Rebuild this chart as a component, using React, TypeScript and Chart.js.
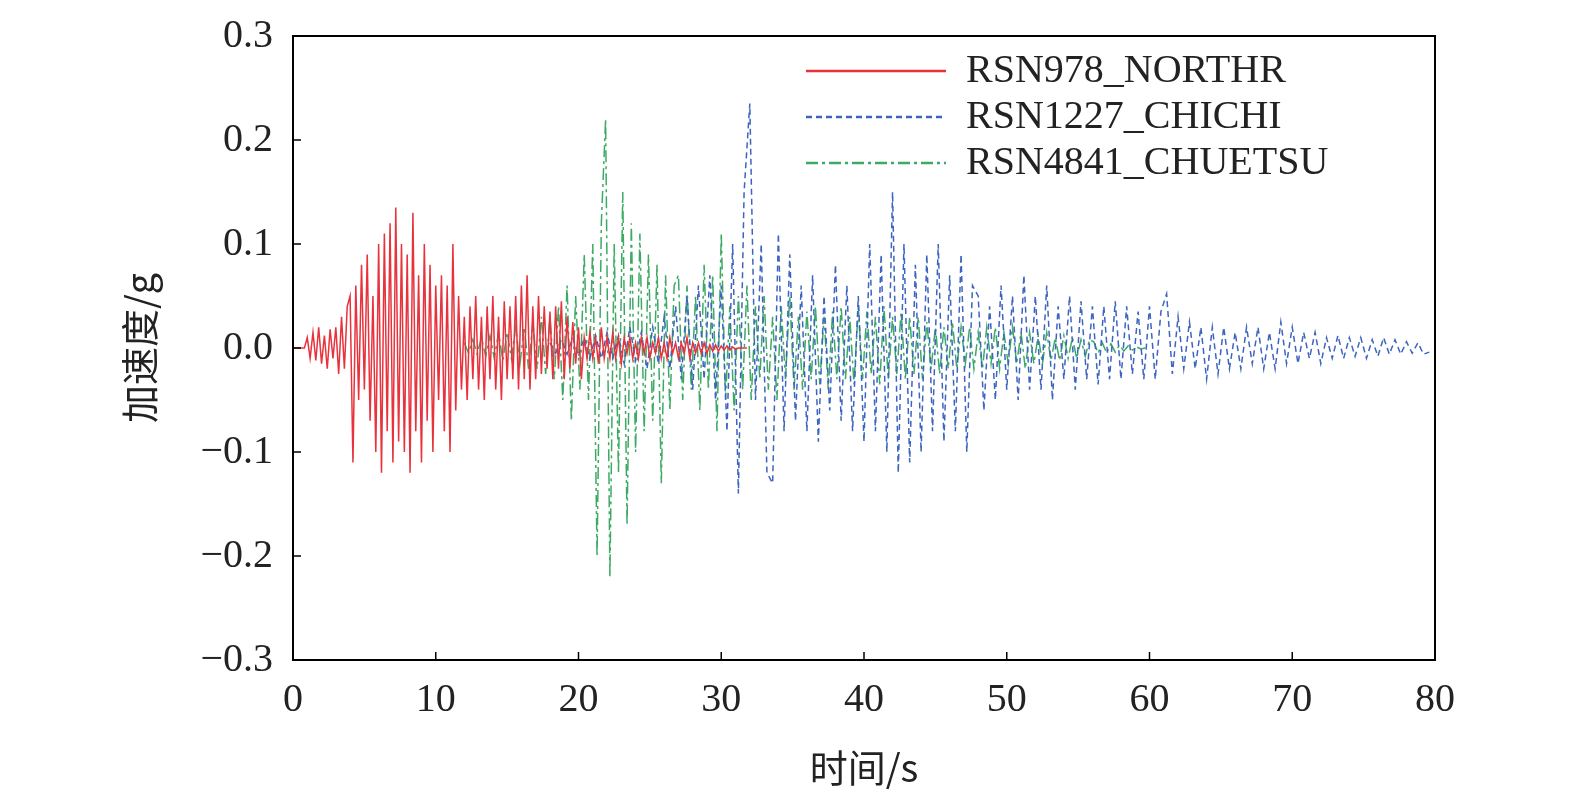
import React, { useEffect, useRef } from "react";
import { Chart, registerables } from "chart.js";
Chart.register(...registerables);

const redStart = 0, redDt = 0.2;
const redValues = [0,0,0,0,0,
0.01,-0.01,0.015,-0.012,0.02,-0.015,0.012,-0.02,0.018,-0.01,0.02,-0.025,0.03,-0.02,0.04,
0.05,-0.11,0.06,-0.05,0.08,-0.04,0.09,-0.07,0.05,-0.1,0.1,-0.12,0.11,-0.08,0.12,-0.11,0.135,-0.09,0.1,-0.1,0.09,-0.12,0.13,-0.08,0.07,-0.11,0.1,-0.07,0.08,-0.1,0.06,-0.05,0.07,-0.08,0.06,-0.1,0.1,-0.06,0.05,-0.04,
0.03,-0.05,0.04,-0.03,0.05,-0.04,0.03,-0.05,0.04,-0.03,0.05,-0.04,0.03,-0.05,0.045,-0.03,0.04,-0.03,0.05,-0.04,0.06,-0.03,0.07,-0.04,0.04,-0.03,0.05,-0.025,0.04,-0.02,0.035,-0.03,0.04,-0.02,0.045,-0.03,0.03,-0.02,0.025,-0.015,
0.02,-0.03,0.01,-0.01,0.015,-0.01,0.01,-0.015,0.02,-0.01,0.01,-0.01,0.015,-0.01,0.01,-0.015,0.01,-0.005,0.01,-0.01,0.005,-0.01,0.01,-0.005,0.01,-0.01,0.005,-0.005,0.01,-0.01,0.005,-0.01,0.01,-0.005,0.005,-0.01,0.005,-0.005,0.01,-0.01,0.005,-0.005,0.005,-0.005,0.005,-0.005,0.003,-0.003,0.003,-0.003,0.002,-0.002,0.002,-0.002,0.001,-0.001,0,0,0,0];

const blueStart = 18, blueDt = 0.4;
const blueValues = [0.005,-0.005,0.008,-0.006,0.01,-0.008,0.01,-0.01,0.012,-0.01,0.015,-0.01,0.012,-0.015,0.02,-0.012,0.015,-0.02,0.02,-0.015,
0.03,-0.02,0.04,-0.03,0.05,-0.04,0.06,-0.03,0.07,-0.05,
0.06,-0.08,0.1,-0.14,0.15,0.235,-0.05,0.1,-0.12,-0.13,0.11,-0.08,0.09,-0.07,0.06,
-0.08,0.07,-0.09,0.05,-0.06,0.08,-0.07,0.06,-0.08,0.05,-0.09,0.1,-0.08,0.09,-0.1,0.15,-0.12,0.1,-0.11,0.08,-0.1,0.09,-0.08,0.1,-0.09,0.07,-0.08,0.09,-0.1,0.06,
0.05,-0.06,0.04,-0.05,0.06,-0.04,0.05,-0.05,0.07,-0.04,0.05,-0.04,0.06,-0.05,0.04,-0.03,0.05,-0.04,0.045,-0.03,0.04,-0.035,0.04,-0.03,0.045,-0.03,0.04,-0.025,0.035,-0.03,0.04,-0.03,0.035,0.052,-0.025,0.03,-0.02,
0.025,-0.02,0.02,-0.03,0.02,-0.025,0.02,-0.02,0.015,-0.02,0.02,-0.015,0.02,-0.02,0.015,-0.02,0.025,-0.015,0.02,-0.015,0.015,-0.01,0.015,-0.015,0.01,-0.01,0.012,-0.01,0.01,-0.008,0.01,-0.01,0.008,-0.008,0.01,-0.006,0.008,-0.006,0.006,-0.005,0.005,-0.006,-0.004];

const greenStart = 12, greenDt = 0.3;
const greenValues = [0.005,-0.005,0.008,-0.006,0.01,-0.008,0.012,-0.01,0.015,-0.012,0.015,-0.01,0.02,-0.015,0.02,-0.02,0.025,-0.02,0.03,-0.025,
0.03,-0.03,0.04,-0.05,0.06,-0.07,0.05,-0.04,0.09,-0.05,0.1,-0.2,0.12,0.22,-0.22,0.1,-0.12,0.15,-0.17,0.12,-0.1,0.11,-0.08,0.09,-0.07,0.08,-0.13,0.07,-0.06,0.06,
0.07,-0.05,0.06,-0.04,0.05,-0.06,0.08,-0.04,0.07,-0.08,0.11,-0.05,0.04,-0.06,0.05,-0.04,0.06,-0.05,0.04,-0.03,0.05,-0.04,0.03,-0.05,0.04,-0.03,0.05,-0.04,0.03,-0.04,
0.035,-0.03,0.04,-0.035,0.03,-0.04,0.035,-0.03,0.04,-0.03,0.03,-0.035,0.04,-0.03,0.035,-0.025,0.03,-0.035,0.04,-0.03,0.03,-0.025,0.035,-0.03,0.03,-0.025,0.03,-0.03,0.025,-0.02,
0.02,-0.025,0.02,-0.02,0.025,-0.02,0.02,-0.015,0.02,-0.02,0.015,-0.02,0.02,-0.015,0.02,-0.02,0.015,-0.015,0.02,-0.015,0.015,-0.02,0.015,-0.015,0.012,-0.015,0.015,-0.012,0.01,-0.012,0.012,-0.01,0.01,-0.01,0.008,-0.008,0.008,
0.006,-0.005,0.005,-0.005,0.004,-0.004,0.003,-0.003,0.002,-0.002,0.001,-0.001,0];

const xTicks = [0, 10, 20, 30, 40, 50, 60, 70, 80];
const yTicks = [-0.3, -0.2, -0.1, 0.0, 0.1, 0.2, 0.3];
const seriesNames = ["RSN978_NORTHR", "RSN1227_CHICHI", "RSN4841_CHUETSU"];

const toPts = (start: number, dt: number, v: number[]) => v.map((y, i) => ({ x: start + i * dt, y }));
const SERIF = "'Liberation Serif', 'Times New Roman', serif";
const CJK = "'Noto Sans CJK SC', sans-serif";

export default function App() {
  const ref = useRef<HTMLCanvasElement>(null);
  useEffect(() => {
    const colors = ["#e8323c", "#3c64c0", "#3caa64"];
    const dashes = [[], [6, 4], [12, 4, 3, 4]];
    const frame = {
      id: "frame",
      afterDraw(c: any) {
        const { ctx, chartArea: a, scales } = c;
        ctx.save();
        ctx.strokeStyle = "#000"; ctx.lineWidth = 2;
        ctx.strokeRect(a.left, a.top, a.right - a.left, a.bottom - a.top);
        ctx.lineWidth = 1.5;
        xTicks.forEach((t) => { const x = scales.x.getPixelForValue(t); ctx.beginPath(); ctx.moveTo(x, a.bottom); ctx.lineTo(x, a.bottom - 8); ctx.stroke(); });
        yTicks.forEach((t) => { const y = scales.y.getPixelForValue(t); ctx.beginPath(); ctx.moveTo(a.left, y); ctx.lineTo(a.left + 8, y); ctx.stroke(); });
        ctx.font = `40px ${SERIF}`; ctx.textBaseline = "middle"; ctx.fillStyle = "#222";
        seriesNames.forEach((n, i) => {
          const y = a.top + 35 + i * 46;
          ctx.strokeStyle = colors[i]; ctx.lineWidth = 2.5; ctx.setLineDash(dashes[i]);
          ctx.beginPath(); ctx.moveTo(806, y); ctx.lineTo(946, y); ctx.stroke();
          ctx.setLineDash([]);
          ctx.fillText(n, 966, y);
        });
        ctx.font = `38px ${CJK}`; ctx.textAlign = "center";
        ctx.fillText("时间/s", (a.left + a.right) / 2, 768);
        ctx.translate(140, (a.top + a.bottom) / 2); ctx.rotate(-Math.PI / 2);
        ctx.fillText("加速度/g", 0, 0);
        ctx.restore();
      },
    };
    const mk = (i: number, d: any[]) => ({
      label: seriesNames[i], data: d, borderColor: colors[i], borderDash: dashes[i],
      borderWidth: 1.5, pointRadius: 0, tension: 0,
    });
    const chart = new Chart(ref.current!, {
      type: "line",
      data: { datasets: [mk(0, toPts(redStart, redDt, redValues)), mk(1, toPts(blueStart, blueDt, blueValues)), mk(2, toPts(greenStart, greenDt, greenValues))] },
      options: {
        animation: false, responsive: false, maintainAspectRatio: false,
        layout: { padding: { top: 5, right: 140, left: 0, bottom: 0 } },
        plugins: { legend: { display: false }, tooltip: { enabled: false } },
        scales: {
          x: {
            type: "linear", min: 0, max: 80, afterFit: (s: any) => { s.height = 140; },
            afterBuildTicks: (s: any) => { s.ticks = xTicks.map((v) => ({ value: v })); },
            grid: { display: false }, border: { display: false },
            ticks: { color: "#222", font: { family: SERIF, size: 40 }, padding: 8 },
          },
          y: {
            min: -0.3, max: 0.3, afterFit: (s: any) => { s.width = 293; },
            afterBuildTicks: (s: any) => { s.ticks = yTicks.map((v) => ({ value: v })); },
            grid: { display: false }, border: { display: false },
            ticks: { color: "#222", font: { family: SERIF, size: 40 }, padding: 12,
              callback: (v: any) => (Number(v) < 0 ? "\u2212" + Math.abs(Number(v)).toFixed(1) : Number(v).toFixed(1)) },
          },
        },
      },
      plugins: [frame],
    });
    return () => chart.destroy();
  }, []);
  return (
    <div style={{ position: "absolute", left: 0, top: 0, width: 1575, height: 800, background: "#fff" }}>
      <canvas ref={ref} width={1575} height={800} style={{ width: 1575, height: 800 }} />
    </div>
  );
}
